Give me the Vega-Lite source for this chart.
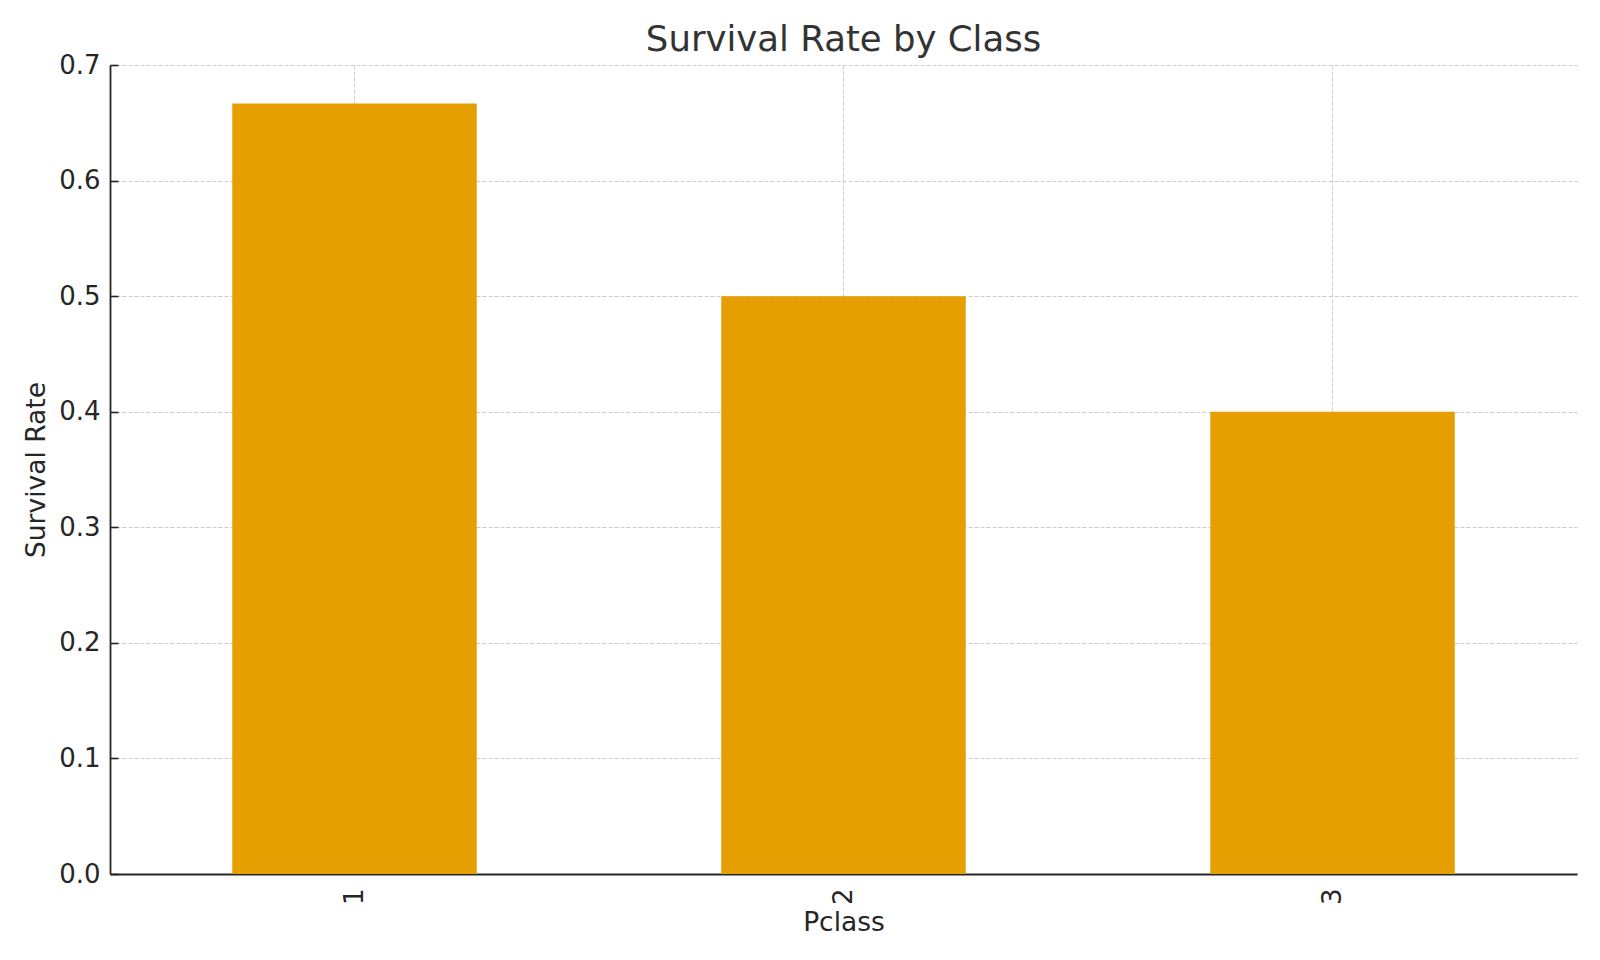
{
  "$schema": "https://vega.github.io/schema/vega-lite/v6.json",
  "width": 1467,
  "height": 809,
  "autosize": {"type": "none"},
  "padding": {"left": 110, "top": 65, "right": 23, "bottom": 86},
  "background": "white",
  "title": {
    "text": "Survival Rate by Class",
    "font": "DejaVu Sans",
    "fontSize": 35.5,
    "fontWeight": "normal",
    "color": "#333333",
    "baseline": "alphabetic",
    "offset": 13,
    "dy": 47
  },
  "data": {
    "values": [
      {"Pclass": "1", "Survival Rate": 0.6667},
      {"Pclass": "2", "Survival Rate": 0.5},
      {"Pclass": "3", "Survival Rate": 0.4}
    ]
  },
  "mark": {"type": "bar", "color": "#E69F00"},
  "encoding": {
    "x": {
      "field": "Pclass",
      "type": "ordinal",
      "scale": {"paddingInner": 0.5, "paddingOuter": 0.25},
      "axis": {
        "labelAngle": 270,
        "labelPadding": 22,
        "titlePadding": 5,
        "bandPosition": 0.5
      }
    },
    "y": {
      "field": "Survival Rate",
      "type": "quantitative",
      "scale": {"domain": [0, 0.7], "nice": false},
      "axis": {
        "values": [0, 0.1, 0.2, 0.3, 0.4, 0.5, 0.6, 0.7],
        "format": ".1f",
        "labelPadding": 18,
        "titlePadding": 8
      }
    }
  },
  "config": {
    "view": {"stroke": null},
    "axis": {
      "zindex": 1,
      "domainColor": "#262626",
      "domainWidth": 1.8,
      "tickColor": "#262626",
      "tickWidth": 1.6,
      "tickSize": -8,
      "grid": true,
      "gridColor": "#cccccc",
      "gridWidth": 1,
      "gridDash": [4, 2],
      "labelFont": "DejaVu Sans",
      "labelFontSize": 26,
      "labelColor": "#262626",
      "titleFont": "DejaVu Sans",
      "titleFontSize": 26.5,
      "titleFontWeight": "normal",
      "titleColor": "#262626"
    }
  }
}
